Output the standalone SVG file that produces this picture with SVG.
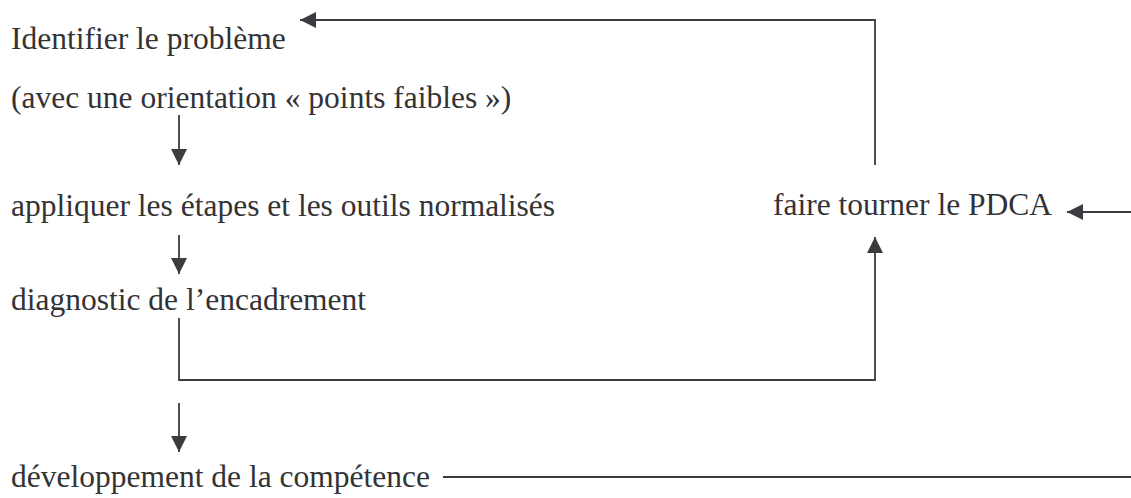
<svg xmlns="http://www.w3.org/2000/svg" width="1131" height="498" viewBox="0 0 1131 498">
<style>
text{font-family:"Liberation Serif","Times New Roman",serif;font-size:31.5px;fill:#333336}
.c{fill:none;stroke:#3c3c40;stroke-width:1.8}
</style>
<defs>
<marker id="ah" viewBox="0 0 16 16" refX="16" refY="8" markerWidth="16" markerHeight="16" markerUnits="userSpaceOnUse" orient="auto">
<path d="M0,0 L16,8 L0,16 z" fill="#3c3c40"/>
</marker>
</defs>
<rect width="1131" height="498" fill="#fff"/>
<g id="n1"><text x="11" y="49">Identifier le problème</text><text x="11" y="108">(avec une orientation « points faibles »)</text></g>
<g id="n2"><text x="11" y="216">appliquer les étapes et les outils normalisés</text></g>
<g id="n3"><text x="773" y="215">faire tourner le PDCA</text></g>
<g id="n4"><text x="11" y="310">diagnostic de l’encadrement</text></g>
<g id="n5"><text x="11" y="487">développement de la compétence</text></g>
<g id="connectors">
<path class="c" d="M875,165 V20 H300" marker-end="url(#ah)"/>
<path class="c" d="M179,115 V165" marker-end="url(#ah)"/>
<path class="c" d="M179,235 V274" marker-end="url(#ah)"/>
<path class="c" d="M179,318 V380 H875 V237" marker-end="url(#ah)"/>
<path class="c" d="M179,403 V452" marker-end="url(#ah)"/>
<path class="c" d="M1131,212 H1067" marker-end="url(#ah)"/>
<path class="c" d="M443,477 H1131"/>
</g>
</svg>
